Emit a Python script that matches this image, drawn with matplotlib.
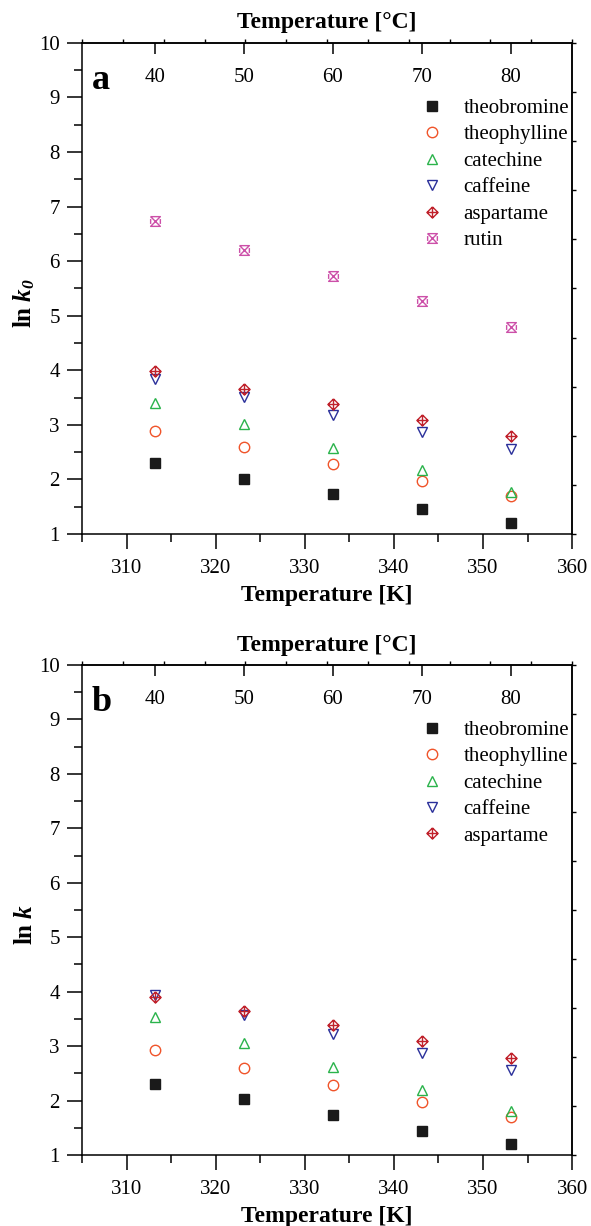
import matplotlib
matplotlib.use("Agg")
import matplotlib.pyplot as plt
from matplotlib.path import Path
from matplotlib.ticker import FixedLocator, MultipleLocator, NullFormatter
import numpy as np

plt.rcParams['font.family'] = ['Liberation Serif', 'DejaVu Serif']
plt.rcParams['mathtext.fontset'] = 'custom'
plt.rcParams['mathtext.rm'] = 'Liberation Serif'
plt.rcParams['mathtext.it'] = 'Liberation Serif:italic'
plt.rcParams['mathtext.bf'] = 'Liberation Serif:bold'
plt.rcParams['mathtext.bfit'] = 'Liberation Serif:italic:bold'

# temperatures [K]
temps = [313.15, 323.15, 333.15, 343.15, 353.15]

# panel a: ln k0
a_theobromine = [2.31, 2.01, 1.73, 1.46, 1.21]
a_theophylline = [2.89, 2.59, 2.28, 1.98, 1.69]
a_catechine = [3.40, 3.01, 2.58, 2.17, 1.77]
a_caffeine = [3.84, 3.52, 3.19, 2.87, 2.55]
a_aspartame = [3.98, 3.66, 3.38, 3.09, 2.80]
a_rutin = [6.73, 6.20, 5.72, 5.27, 4.80]

# panel b: ln k
b_theobromine = [2.31, 2.02, 1.73, 1.45, 1.21]
b_theophylline = [2.93, 2.60, 2.28, 1.97, 1.69]
b_catechine = [3.54, 3.06, 2.61, 2.19, 1.80]
b_caffeine = [3.94, 3.57, 3.22, 2.88, 2.56]
b_aspartame = [3.91, 3.65, 3.38, 3.09, 2.79]

names = ['theobromine', 'theophylline', 'catechine', 'caffeine', 'aspartame', 'rutin']
celsius_ticks = [40, 50, 60, 70, 80]

# custom markers
diamond_plus = Path.make_compound_path(
    Path([(0, 1), (1, 0), (0, -1), (-1, 0), (0, 1)]),
    Path([(-1, 0), (1, 0)]),
    Path([(0, -1), (0, 1)]))
hourglass_x = Path.make_compound_path(
    Path([(-1, 1), (1, 1), (-1, -1), (1, -1), (-1, 1)]),
    Path([(-1, -0.5), (-1, 0.5)]),
    Path([(1, -0.5), (1, 0.5)]))

styles = {
    'theobromine': dict(marker='s', color='#1a1a1a', mfc='#1a1a1a', ms=6.5),
    'theophylline': dict(marker='o', color='#f0542a', mfc='none', ms=7.5),
    'catechine': dict(marker='^', color='#2ab34b', mfc='none', ms=7.5),
    'caffeine': dict(marker='v', color='#2a2f9a', mfc='none', ms=7.5),
    'aspartame': dict(marker=diamond_plus, color='#c0222c', mfc='none', ms=8),
    'rutin': dict(marker=hourglass_x, color='#cc4fa8', mfc='none', ms=7),
}


def draw_panel(ax, series, letter, ylabel):
    for name, vals in series:
        ax.plot(temps, vals, linestyle='none', mew=1.0, label=name, **styles[name])

    ax.set_xlim(305, 360)
    ax.set_ylim(1, 10)
    ax.xaxis.set_major_locator(MultipleLocator(10))
    ax.xaxis.set_minor_locator(MultipleLocator(5))
    ax.yaxis.set_major_locator(MultipleLocator(1))
    ax.yaxis.set_minor_locator(MultipleLocator(0.5))
    ax.tick_params(which='both', direction='out', top=False, right=False,
                   labelsize=15, width=1.1, pad=5)
    ax.tick_params(axis='x', which='major', pad=7)
    ax.tick_params(which='major', length=11)
    ax.tick_params(which='minor', length=6)
    for sp in ax.spines.values():
        sp.set_linewidth(1.1)

    ax.set_xlabel('Temperature [K]', fontsize=17, fontweight='bold', labelpad=5)
    ax.set_ylabel(ylabel, fontsize=18)
    ax.yaxis.set_label_coords(-0.092, 0.47)

    # top Celsius axis, labels inside
    sec = ax.secondary_xaxis('top', functions=(lambda k: k - 273.15, lambda c: c + 273.15))
    sec.xaxis.set_major_locator(FixedLocator(celsius_ticks))
    sec.xaxis.set_minor_locator(FixedLocator(list(np.linspace(305, 360, 13) - 273.15)))
    sec.xaxis.set_minor_formatter(NullFormatter())
    sec.tick_params(which='major', direction='in', length=8, width=1.1,
                    labelsize=15, pad=-32)
    sec.tick_params(which='minor', direction='out', length=3, width=1.0)
    sec.spines['top'].set_linewidth(1.1)
    sec.set_xlabel('Temperature [\u00b0C]', fontsize=17, fontweight='bold', labelpad=4)

    # right side small ticks
    secr = ax.secondary_yaxis('right')
    secr.yaxis.set_major_locator(FixedLocator(list(np.linspace(1, 10, 11))))
    secr.yaxis.set_major_formatter(NullFormatter())
    secr.tick_params(which='major', direction='out', length=3, width=1.0)
    secr.spines['right'].set_linewidth(1.1)

    ax.text(0.02, 0.906, letter, transform=ax.transAxes, fontsize=26,
            fontweight='bold', va='baseline', ha='left')

    ax.legend(loc='upper left', bbox_to_anchor=(0.693, 0.887), frameon=False,
              fontsize=15, numpoints=1, handlelength=1.0, handletextpad=1.0,
              labelspacing=0.33, borderpad=0, borderaxespad=0)


fig = plt.figure(figsize=(5.91, 12.26), dpi=100)
ax1 = fig.add_axes([0.1387, 0.5644, 0.8293, 0.4006])
ax2 = fig.add_axes([0.1387, 0.0579, 0.8293, 0.3997])

draw_panel(ax1, list(zip(names, [a_theobromine, a_theophylline, a_catechine,
                                 a_caffeine, a_aspartame, a_rutin])),
           'a', r'$\mathbf{ln}\ \mathbfit{k_0}$')
draw_panel(ax2, list(zip(names[:5], [b_theobromine, b_theophylline, b_catechine,
                                     b_caffeine, b_aspartame])),
           'b', r'$\mathbf{ln}\ \mathbfit{k}$')

fig.savefig('out.png', dpi=100)
